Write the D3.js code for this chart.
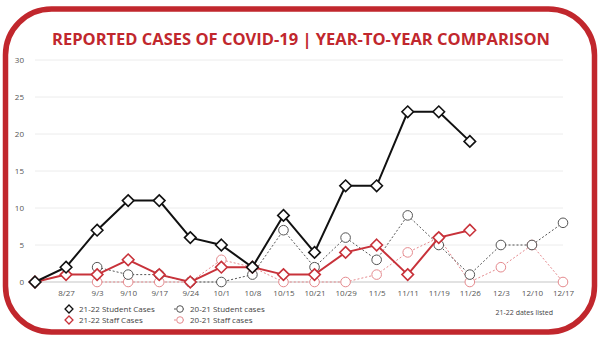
<!DOCTYPE html>
<html>
<head>
<meta charset="utf-8">
<script src="https://cdn.jsdelivr.net/npm/d3@7"></script>
<style>
  body { margin: 0; background: #fff; }
  text { font-family: "Open Sans", sans-serif; }
</style>
</head>
<body>
<div id="chart"></div>
<script>
// Data
var dates = ["", "8/27", "9/3", "9/10", "9/17", "9/24", "10/1", "10/8", "10/15", "10/21", "10/29", "11/5", "11/11", "11/19", "11/26", "12/3", "12/10", "12/17"];
var student2122 = [0, 2, 7, 11, 11, 6, 5, 2, 9, 4, 13, 13, 23, 23, 19, null, null, null];
var staff2122 = [0, 1, 1, 3, 1, 0, 2, 2, 1, 1, 4, 5, 1, 6, 7, null, null, null];
var student2021 = [null, null, 2, 1, 1, 0, 0, 1, 7, 2, 6, 3, 9, 5, 1, 5, 5, 8];
var staff2021 = [null, null, 0, 0, 0, 0, 3, 2, 0, 0, 0, 1, 4, 6, 0, 2, 5, 0];
var yTicks = [0, 5, 10, 15, 20, 25, 30];

var svgWidth = 600;
var svgHeight = 338;
var red = "#c1272d";

var svg = d3.select("#chart")
  .append("svg")
  .attr("width", svgWidth)
  .attr("height", svgHeight);

// frame
svg.append("rect")
  .attr("x", 5.5).attr("y", 9)
  .attr("width", 589).attr("height", 323)
  .attr("rx", 46).attr("ry", 46)
  .attr("fill", "#fff")
  .attr("stroke", red)
  .attr("stroke-width", 5.5);

svg.append("text")
  .attr("x", 301).attr("y", 45)
  .attr("text-anchor", "middle")
  .attr("fill", red)
  .style("font-size", "16.5px")
  .style("font-weight", "bold")
  .text("REPORTED CASES OF COVID-19 | YEAR-TO-YEAR COMPARISON");

// scales
var xScale = d3.scalePoint()
  .domain(d3.range(dates.length))
  .range([35, 563]);

var yScale = d3.scaleLinear()
  .domain([0, 30])
  .range([282, 60]);

// grid
svg.append("g")
  .selectAll("line")
  .data(yTicks)
  .enter()
  .append("line")
  .attr("x1", 35).attr("x2", 563)
  .attr("y1", d => yScale(d)).attr("y2", d => yScale(d))
  .attr("stroke", d => d === 0 ? "#d8d8d8" : "#ececec")
  .attr("stroke-width", d => d === 0 ? 1.5 : 1);

// y axis
var leftAxis = d3.axisLeft(yScale).tickValues(yTicks).tickSize(0).tickPadding(0);
var yAxis = svg.append("g")
  .attr("transform", "translate(24,0)")
  .call(leftAxis);
yAxis.select(".domain").remove();
yAxis.selectAll("text").attr("fill", "#555").style("font-size", "8px").style("font-family", "'Open Sans', sans-serif");

// x axis
var bottomAxis = d3.axisBottom(xScale).tickSize(0).tickPadding(0).tickFormat(i => dates[i]);
var xAxis = svg.append("g")
  .attr("transform", "translate(0,290)")
  .call(bottomAxis);
xAxis.select(".domain").remove();
xAxis.selectAll("text").attr("fill", "#555").style("font-size", "8px").style("font-family", "'Open Sans', sans-serif");

var lineGen = d3.line()
  .defined(d => d != null)
  .x((d, i) => xScale(i))
  .y(d => yScale(d));

function toPoints(arr) {
  return arr.map((v, i) => ({ i: i, v: v })).filter(d => d.v != null);
}

var diamond = d3.symbol().type(d3.symbolDiamond2).size(85);

function drawDotted(arr, color) {
  svg.append("path")
    .datum(arr)
    .attr("d", lineGen)
    .attr("fill", "none")
    .attr("stroke", color)
    .attr("stroke-width", 1)
    .attr("stroke-dasharray", "2,2");
  svg.append("g")
    .selectAll("circle")
    .data(toPoints(arr))
    .enter()
    .append("circle")
    .attr("cx", d => xScale(d.i))
    .attr("cy", d => yScale(d.v))
    .attr("r", 4.8)
    .attr("fill", "#fff")
    .attr("stroke", color)
    .attr("stroke-width", 1);
}

function drawSolid(arr, color) {
  svg.append("path")
    .datum(arr)
    .attr("d", lineGen)
    .attr("fill", "none")
    .attr("stroke", color)
    .attr("stroke-width", 2);
  svg.append("g")
    .selectAll("path")
    .data(toPoints(arr))
    .enter()
    .append("path")
    .attr("d", diamond)
    .attr("transform", d => `translate(${xScale(d.i)},${yScale(d.v)})`)
    .attr("fill", "#fff")
    .attr("stroke", color)
    .attr("stroke-width", 1.6);
}

drawDotted(staff2021, "#e58a8e");
drawDotted(student2021, "#555");
drawSolid(staff2122, "#c8323a");
drawSolid(student2122, "#111");

// legend
var legendItems = [
  { label: "21-22 Student Cases", color: "#111", type: "diamond", x: 69, y: 309 },
  { label: "21-22 Staff Cases", color: "#c8323a", type: "diamond", x: 69, y: 320 },
  { label: "20-21 Student cases", color: "#555", type: "circle", x: 180, y: 309 },
  { label: "20-21 Staff cases", color: "#e58a8e", type: "circle", x: 180, y: 320 }
];
var legend = svg.append("g");
legendItems.forEach(function(d) {
  if (d.type === "diamond") {
    legend.append("path")
      .attr("d", d3.symbol().type(d3.symbolDiamond2).size(40))
      .attr("transform", `translate(${d.x},${d.y})`)
      .attr("fill", "#fff").attr("stroke", d.color).attr("stroke-width", 1.3);
  } else {
    legend.append("line")
      .attr("x1", d.x - 6).attr("x2", d.x + 6)
      .attr("y1", d.y).attr("y2", d.y)
      .attr("stroke", d.color).attr("stroke-dasharray", "2,2");
    legend.append("circle")
      .attr("cx", d.x).attr("cy", d.y).attr("r", 3.3)
      .attr("fill", "#fff").attr("stroke", d.color);
  }
  legend.append("text")
    .attr("x", d.x + 10).attr("y", d.y + 3)
    .attr("fill", "#444")
    .style("font-size", "8px")
    .text(d.label);
});

svg.append("text")
  .attr("x", 553).attr("y", 314.5)
  .attr("text-anchor", "end")
  .attr("fill", "#444")
  .style("font-size", "7px")
  .text("21-22 dates listed");
</script>
</body>
</html>
